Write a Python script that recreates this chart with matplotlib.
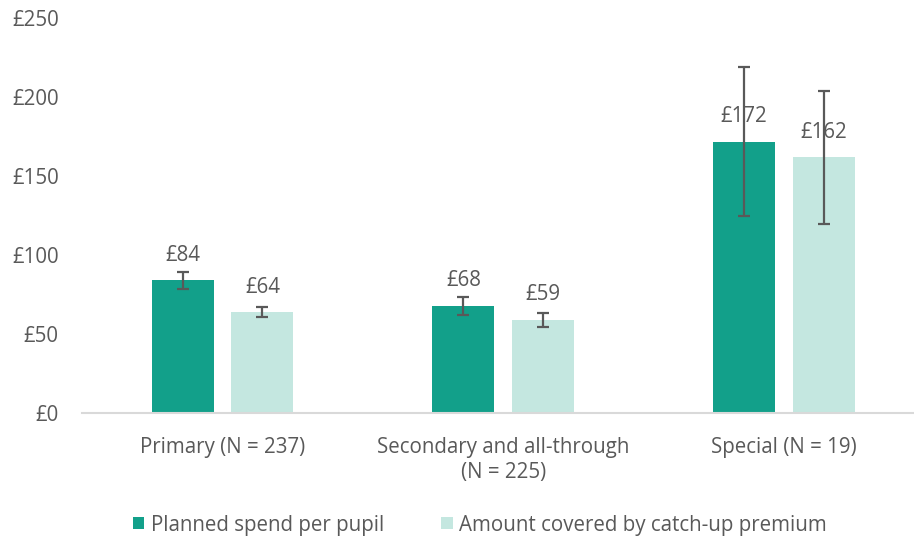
import matplotlib.pyplot as plt
import numpy as np

plt.rcParams['font.family'] = ['Open Sans', 'DejaVu Sans']

categories = ['Primary (N = 237)', 'Secondary and all-through\n(N = 225)', 'Special (N = 19)']
planned = [84, 68, 172]
covered = [64, 59, 162]
planned_err = [5.6, 5.7, 47]
covered_err = [3.3, 4.2, 42.3]
series_names = ['Planned spend per pupil', 'Amount covered by catch-up premium']

col_planned = '#12A08A'
col_covered = '#C4E7E0'
grey = '#595959'
fs = 14.8

fig = plt.figure(figsize=(9.14, 5.39), dpi=100)
ax = fig.add_axes([82.4 / 914, 126 / 539, (914 - 82.4) / 914, (413 - 18.5) / 539])

x = np.arange(len(categories))
w = 0.221
off = 0.142
err_kw = dict(ecolor=grey, elinewidth=1.6, capsize=4.3, capthick=1.6)
b1 = ax.bar(x - off, planned, w, color=col_planned, yerr=planned_err,
            error_kw=err_kw, label=series_names[0])
b2 = ax.bar(x + off, covered, w, color=col_covered, yerr=covered_err,
            error_kw=err_kw, label=series_names[1])

# data labels just above the bars
for bars, vals in [(b1, planned), (b2, covered)]:
    for rect, v in zip(bars, vals):
        ax.annotate(f'£{v}', (rect.get_x() + rect.get_width() / 2, rect.get_height()),
                    xytext=(0, 18), textcoords='offset points',
                    ha='center', va='center', fontsize=fs, color=grey)

ax.set_ylim(0, 250)
ax.set_xlim(-0.5, (914 - 222.7) / 280.5)
ax.set_yticks([0, 50, 100, 150, 200, 250])
ax.set_yticklabels([f'£{v}' for v in [0, 50, 100, 150, 200, 250]])
ax.set_xticks(x)
ax.set_xticklabels(categories, linespacing=1.3)
ax.tick_params(axis='both', length=0, labelsize=fs, labelcolor=grey)
ax.tick_params(axis='y', pad=17)
ax.tick_params(axis='x', pad=17)
for lab in ax.get_xticklabels():
    lab.set_verticalalignment('top')

for s in ['top', 'right', 'left']:
    ax.spines[s].set_visible(False)
ax.spines['bottom'].set_color('#D9D9D9')
ax.spines['bottom'].set_linewidth(1.5)

fig.legend(handles=[b1, b2], labels=series_names, loc='center',
           bbox_to_anchor=(0.525, 14 / 539), ncol=2, frameon=False,
           fontsize=fs, labelcolor=grey, handlelength=0.55, handleheight=0.55,
           handletextpad=0.3, columnspacing=2.8)

fig.savefig('out.png', dpi=100)
